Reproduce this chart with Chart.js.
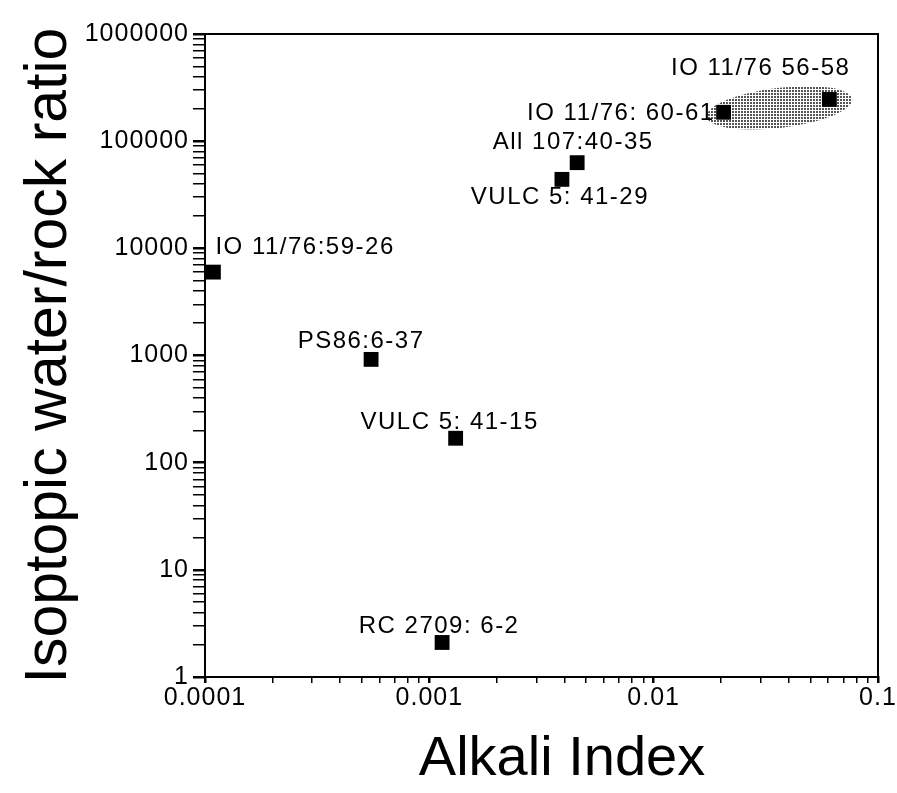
<!DOCTYPE html>
<html>
<head>
<meta charset="utf-8">
<title>Alkali Index vs isotopic water/rock ratio</title>
<script src="https://cdn.jsdelivr.net/npm/chart.js@4.4.1/dist/chart.umd.min.js"></script>
<style>
  html, body { margin: 0; padding: 0; background: #fff; }
  #plot { display: block; }
</style>
</head>
<body>
<canvas id="plot" width="897" height="793"></canvas>
<script>
// Samples: alkali index vs isotopic water/rock ratio (both log axes)
const sampleNames = [
    "IO 11/76:59-26",
    "PS86:6-37",
    "VULC 5: 41-15",
    "RC 2709: 6-2",
    "VULC 5: 41-29",
    "All 107:40-35",
    "IO 11/76: 60-61",
    "IO 11/76 56-58"
];
const alkaliIndex = [0.000109, 0.00055, 0.00131, 0.00114, 0.0039, 0.00456, 0.0205, 0.0607];
const waterRockRatio = [6000, 920, 169, 2.1, 44000, 63000, 186000, 245000];

// The two samples enclosed by the shaded field
const groupedSamples = [6, 7];

const xTickLabels = ["0.0001", "0.001", "0.01", "0.1"];
const yTickLabels = ["1", "10", "100", "1000", "10000", "100000", "1000000"];

// where each sample name sits relative to its marker (px)
const labelPlacement = [
    { dx: 2, dy: -25, align: "left" },
    { dx: -10, dy: -18, align: "center" },
    { dx: -6, dy: -16, align: "center" },
    { dx: -3, dy: -16, align: "center" },
    { dx: -2, dy: 18, align: "center" },
    { dx: -4, dy: -20, align: "center" },
    { dx: -9, dy: 1, align: "right" },
    { dx: 21, dy: -31, align: "right" }
];

const SANS = "'Liberation Sans', Arial, sans-serif";

// 1..9 in every decade between lo and hi
function logTicks(lo, hi) {
    const out = [];
    for (let e = Math.round(Math.log10(lo)); e < Math.round(Math.log10(hi)); e++) {
        for (let m = 1; m <= 9; m++) {
            out.push({ value: +(m * Math.pow(10, e)).toPrecision(10), major: m === 1 });
        }
    }
    out.push({ value: hi, major: true });
    return out;
}

function stipple() {
    const c = document.createElement("canvas");
    c.width = 3;
    c.height = 3;
    const g = c.getContext("2d");
    g.fillStyle = "#555";
    g.fillRect(0, 0, 2, 2);
    return g.createPattern(c, "repeat");
}

const paperPlugin = {
    id: "paper",
    beforeDraw(chart) {
        const ctx = chart.ctx;
        ctx.save();
        ctx.fillStyle = "#fff";
        ctx.fillRect(0, 0, chart.width, chart.height);
        ctx.restore();
        // plotter lettering is spaced out a little
        ctx.letterSpacing = "1px";
    },
    beforeDatasetsDraw(chart) {
        // shaded field around the grouped samples
        const xs = chart.scales.x, ys = chart.scales.y;
        const p = groupedSamples.map(i => ({
            x: xs.getPixelForValue(alkaliIndex[i]),
            y: ys.getPixelForValue(waterRockRatio[i])
        }));
        const cx = (p[0].x + p[1].x) / 2 + 3;
        const cy = (p[0].y + p[1].y) / 2 + 2;
        const ang = Math.atan2(p[1].y - p[0].y, p[1].x - p[0].x);
        const half = Math.hypot(p[1].x - p[0].x, p[1].y - p[0].y) / 2;
        const ctx = chart.ctx;
        ctx.save();
        ctx.beginPath();
        ctx.ellipse(cx, cy, half + 20, 20, ang, 0, Math.PI * 2);
        ctx.fillStyle = stipple();
        ctx.fill();
        ctx.restore();
    },
    afterDraw(chart) {
        const ctx = chart.ctx;
        const a = chart.chartArea;
        ctx.save();
        // frame
        ctx.strokeStyle = "#000";
        ctx.lineWidth = 2;
        ctx.strokeRect(a.left, a.top, a.right - a.left, a.bottom - a.top);

        // sample names
        const xs = chart.scales.x, ys = chart.scales.y;
        ctx.fillStyle = "#000";
        ctx.font = "24px " + SANS;
        ctx.letterSpacing = "1.5px";
        ctx.textBaseline = "middle";
        sampleNames.forEach((name, i) => {
            const pl = labelPlacement[i];
            ctx.textAlign = pl.align;
            ctx.fillText(name,
                xs.getPixelForValue(alkaliIndex[i]) + pl.dx,
                ys.getPixelForValue(waterRockRatio[i]) + pl.dy);
        });

        // axis titles
        ctx.letterSpacing = "0px";
        ctx.font = "56px " + SANS;
        ctx.textAlign = "center";
        ctx.fillText("Alkali Index", 562, 760);
        ctx.translate(50, (a.top + a.bottom) / 2);
        ctx.rotate(-Math.PI / 2);
        ctx.font = "59px " + SANS;
        ctx.fillText("Isoptopic water/rock ratio", 0, 0);
        ctx.restore();
    }
};

const gridFor = len => ({
    drawOnChartArea: false,
    drawTicks: true,
    tickLength: len,
    color: "#000",
    tickColor: "#000",
    lineWidth: c => (c.tick && c.tick.major ? 2.5 : 1.5)
});

new Chart(document.getElementById("plot"), {
    type: "scatter",
    data: {
        datasets: [{
            data: alkaliIndex.map((v, i) => ({ x: v, y: waterRockRatio[i] })),
            pointStyle: "rect",
            pointRadius: 10.5,
            pointHoverRadius: 10.5,
            backgroundColor: "#000",
            borderColor: "#000",
            borderWidth: 0
        }]
    },
    options: {
        responsive: false,
        animation: false,
        events: [],
        layout: { padding: { top: 34, right: 19, left: 0, bottom: 0 } },
        plugins: {
            legend: { display: false },
            tooltip: { enabled: false }
        },
        scales: {
            x: {
                type: "logarithmic",
                min: 0.0001,
                max: 0.1,
                afterBuildTicks: s => { s.ticks = logTicks(0.0001, 0.1); },
                afterFit: s => { s.height = 116; s.paddingLeft = 0; s.paddingRight = 0; },
                grid: gridFor(6),
                border: { display: true, color: "#000", width: 2 },
                ticks: {
                    autoSkip: false,
                    maxRotation: 0,
                    padding: 0,
                    color: "#000",
                    font: { family: SANS, size: 25 },
                    callback: (v, i, t) => t[i].major ? xTickLabels[Math.round(Math.log10(v) + 4)] : ""
                }
            },
            y: {
                type: "logarithmic",
                min: 1,
                max: 1000000,
                afterBuildTicks: s => { s.ticks = logTicks(1, 1000000); },
                afterFit: s => { s.width = 205; s.paddingTop = 0; s.paddingBottom = 0; },
                grid: gridFor(12),
                border: { display: true, color: "#000", width: 2 },
                ticks: {
                    autoSkip: false,
                    padding: 4,
                    color: "#000",
                    font: { family: SANS, size: 25 },
                    callback: (v, i, t) => t[i].major ? yTickLabels[Math.round(Math.log10(v))] : ""
                }
            }
        }
    },
    plugins: [paperPlugin]
});
</script>
</body>
</html>
